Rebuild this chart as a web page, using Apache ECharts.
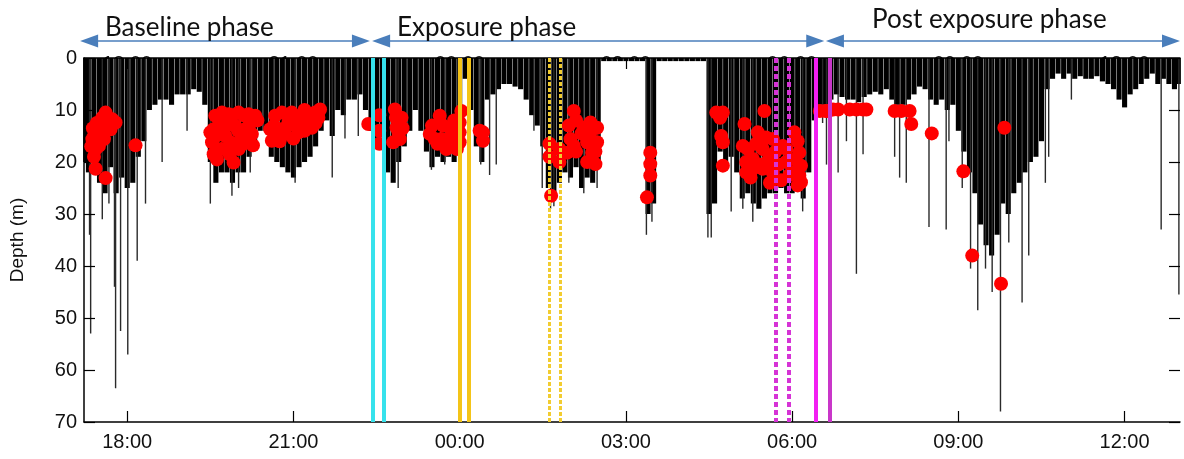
<!DOCTYPE html>
<html>
<head>
<meta charset="utf-8">
<script src="https://cdn.jsdelivr.net/npm/echarts@6/dist/echarts.min.js"></script>
<style>
  html, body { margin: 0; padding: 0; background: #fff; }
  #chart { width: 1184px; height: 459px; }
</style>
</head>
<body>
<div id="chart"></div>
<script>
// dive profile: [hour, depth m], hours past midnight of day 1 (24 = 00:00)
var profile = [
  [17.25,20],[17.3,22],[17.4,19],[17.5,24],[17.6,26],[17.7,21],[17.8,26],[17.9,23],[18.0,25],[18.1,24],
  [18.2,19],[18.3,16],[18.4,10],[18.5,9],[18.6,8],[18.7,8],[18.8,9],[18.9,7],[19.0,7],[19.1,7],
  [19.2,6],[19.3,6.5],[19.4,9],[19.5,20],[19.6,24],[19.7,22],[19.8,22],[19.9,24],[20.0,22],[20.1,22],
  [20.2,19],[20.3,17],[20.4,14],[20.5,14],[20.6,19],[20.7,20],[20.8,21],[20.9,22],[21.0,23],[21.1,21],
  [21.2,20],[21.3,19],[21.4,17],[21.5,14],[21.6,12],[21.7,15],[21.8,10],[21.9,11],[22.0,8],[22.1,8],
  [22.2,7],[22.3,10],[22.4,14],[22.5,17],[22.6,15],[22.7,22],[22.8,24],[22.9,20],[23.0,17],[23.1,14],
  [23.2,10],[23.3,14],[23.4,18],[23.5,21],[23.6,19],[23.7,20],[23.8,19],[23.9,20],[24.0,18],[24.1,4],
  [24.2,10],[24.3,17],[24.4,20],[24.5,8],[24.6,7],[24.7,6],[24.8,5],[24.9,5],[25.0,5.5],[25.1,6],
  [25.2,8],[25.3,11],[25.4,13],[25.5,17],[25.6,25],[25.7,27],[25.8,24],[25.9,22],[26.0,23],[26.1,21],
  [26.2,25],[26.3,23],[26.4,24],[26.5,21],[26.6,0.6],[26.7,0.6],[26.8,0.6],[26.9,0.6],[27.0,0.6],[27.1,0.6],
  [27.2,0.6],[27.3,0.6],[27.4,30],[27.5,28],[27.6,0.6],[27.7,0.6],[27.8,0.6],[27.9,0.6],[28.0,0.6],[28.1,0.6],
  [28.2,0.6],[28.3,0.6],[28.4,0.6],[28.5,30],[28.6,28],[28.7,18],[28.8,20],[28.9,19],[29.0,22],[29.1,27],
  [29.2,26],[29.3,28],[29.4,29],[29.5,27],[29.6,26],[29.7,26],[29.8,25],[29.9,26],[30.0,26],[30.1,25],
  [30.2,27],[30.3,22],[30.4,12],[30.5,9],[30.6,9],[30.7,8],[30.8,7],[30.9,7.5],[31.0,8],[31.1,8],
  [31.2,8.5],[31.3,7.5],[31.4,7],[31.5,6.5],[31.6,7],[31.7,6],[31.8,8],[31.9,9],[32.0,9],[32.1,8],
  [32.2,7],[32.3,5.5],[32.4,6],[32.5,8],[32.6,9],[32.7,8],[32.8,10],[32.9,9],[33.0,14],[33.1,18],
  [33.2,22],[33.3,26],[33.4,32],[33.5,36],[33.6,38],[33.7,34],[33.8,28],[33.9,30],[34.0,26],[34.1,24],
  [34.2,22],[34.3,20],[34.4,19],[34.5,16],[34.6,6],[34.7,4],[34.8,3],[34.9,4],[35.0,3],[35.1,4],
  [35.2,3.5],[35.3,4],[35.4,4],[35.5,3.5],[35.6,4.5],[35.7,5],[35.8,6],[35.9,8],[36.0,9.5],[36.1,7],
  [36.2,6],[36.3,5],[36.4,4],[36.5,3],[36.6,5],[36.7,4],[36.8,5],[36.9,6],[36.97,5]
];

// single deep dives (thin lines)
var spikes = [
  [17.32,34],[17.34,53],[17.55,31],[17.67,28],[17.77,44],[17.79,63.5],[17.88,52.5],[18.01,57],[18.18,39],[18.33,28],
  [18.63,20],[19.08,14],[19.5,28],[19.89,26.5],[20.01,25],[20.22,22],[21.03,24],[21.7,23],[21.93,15.5],[22.17,15],
  [22.89,25],[23.49,21.5],[23.73,20.5],[24.38,20.5],[24.54,22.5],[24.66,20.5],[25.34,14],[25.49,25],[25.64,29],[25.7,28.5],
  [25.97,24],[26.24,26],[26.48,25],[27.37,34],[27.47,31.5],[28.48,34.5],[28.54,34.5],[28.9,29.5],[29.11,29],[29.29,31.5],
  [30.19,29.5],[30.55,12.5],[30.62,20.5],[30.83,22],[30.98,16],[31.16,41.5],[31.28,18.5],[31.85,19],[31.94,23],[32.06,24],
  [32.47,32.5],[32.78,33],[32.83,16],[33.07,25],[33.22,40.5],[33.35,48.5],[33.49,40.5],[33.61,45],[33.76,68],[33.91,35.5],
  [34.15,47],[34.27,38],[34.57,24],[34.63,19],[35.04,8],[36.66,33],[36.98,45.5]
];

// detected events (red dots)
var events = [
  [17.43,17.5],[17.37,15.6],[17.46,14.3],[17.52,13],[17.61,10.5],[17.73,11.8],[17.7,13.7],[17.58,15.6],[17.43,21.3],[17.61,23.1],
  [18.15,16.8],[17.79,12.4],[17.49,16.9],[17.4,15],[17.35,17],[17.45,12.5],[17.55,11.5],[17.65,12],[17.5,15],[17.4,19],[17.38,13.5],
  [19.56,18.5],[19.53,16.2],[19.5,14.3],[19.59,11.1],[19.71,10.5],[19.83,10.8],[19.65,13.1],[19.77,15],[19.92,20.1],[20.01,17.5],
  [20.07,15.6],[19.95,13.1],[20.01,10.5],[20.19,10.8],[20.31,11.1],[20.25,14.6],[20.13,13.7],[19.86,16.2],[19.56,13.7],
  [19.6,15],[19.7,12],[19.8,13],[19.9,11],[20.1,11],[20.2,13],[20.35,12],[20.0,14],[19.7,17.5],[19.85,18.5],
  [20.1,16.5],[19.62,19.5],[20.27,16.8],
  [20.61,15.9],[20.58,13.7],[20.67,11.1],[20.79,10.5],[20.91,12.4],[20.97,10.5],[21.09,14.3],[21.15,11.1],[21.27,12.4],[21.39,10.5],
  [21.48,9.9],[20.85,14.6],[21.03,13],[21.33,13.4],[20.79,13.7],[20.7,14.5],[20.75,16],[20.9,11],[21.0,15.5],[21.1,12.5],
  [21.2,10],[21.2,14],[21.3,11],[21.4,12.5],[21.45,11.5],[20.65,13],[21.05,11.5],
  [22.35,12.7],[22.55,11],[22.55,14],[22.55,16.5],
  [22.83,9.9],[22.95,11.5],[22.86,13.4],[22.92,15.6],[22.8,16.2],[22.9,14.5],[22.85,11.5],[22.97,13.5],
  [23.46,14.6],[23.64,11.1],[23.67,15.6],[23.76,17.5],[23.85,13.7],[23.94,15.6],[24.0,12.4],[23.55,15.6],
  [23.5,13],[23.6,16.5],[23.7,13],[23.8,15.5],[23.9,12],[23.95,17.5],
  [24.03,10.2],[24.0,14.3],[24.0,16.2],[24.42,14.3],[24.42,15.9],[24.36,14],
  [25.62,16.5],[25.62,19],[25.8,17.5],[25.8,20],[25.65,26.5],
  [26.06,10.2],[25.97,13],[26.0,15.6],[25.94,18.2],[26.06,16.9],
  [26.36,12.4],[26.48,13.4],[26.3,16.2],[26.48,16.2],[26.39,18.2],[26.45,20.4],[26.24,13.4],
  [26.1,12],[26.2,14.5],[26.1,18],[26.35,14.5],[26.45,18],[26.3,20],
  [27.44,18.2],[27.44,20.4],[27.44,22.6],[27.38,26.8],
  [28.63,10.5],[28.75,10.5],[28.7,11.5],[28.72,15],[28.75,16.2],[28.75,20.7],
  [29.5,10.2],[29.14,12.7],[29.38,14.3],[29.53,15.3],[29.11,16.9],[29.17,20],[29.17,22],[29.29,19.4],[29.47,17.5],[29.59,18.8],
  [29.47,21.3],[29.65,22],[29.83,16.9],[29.89,20],[30.0,22],[30.04,14.3],[30.13,18.2],[30.16,20.7],[30.16,23.9],[30.13,22.6],
  [29.29,21.3],[29.65,15.6],[29.2,17.5],[29.35,16.5],[29.4,20.5],[29.55,20],[29.7,18],[29.75,20.5],[29.9,17.5],[29.95,22.5],
  [30.05,19.5],[30.1,16],[29.25,23],[29.6,24],[29.8,23.5],[30.1,24.5],
  [30.5,10.2],[30.6,10.2],[30.65,10.2],
  [30.74,9.9],[30.83,9.9],[31.04,9.9],[31.16,9.9],[31.28,9.9],[31.34,9.9],
  [31.85,10.2],[31.97,10.2],[32.12,10.2],[32.15,12.7],[32.52,14.5],[33.09,21.8],[33.25,38],[33.83,13.4],[33.77,43.4]
];

// exposure markers (hours)
var cyanLines = [22.43, 22.63];
var yellowLines = [24.0, 24.16];
var yellowDashed = [25.61, 25.81];
var magentaDashed = [29.70, 29.94];
var magentaLines = [30.42, 30.67];

// phases
var phaseNames = ['Baseline phase', 'Exposure phase', 'Post exposure phase'];
var phaseStart = [17.15, 22.42, 30.61];
var phaseEnd = [22.38, 30.58, 37.0];

var hourTicks = [18, 21, 24, 27, 30, 33, 36];

var X_MIN = 17.22, X_MAX = 37.0;
var GRID = { left: 77, top: 58, right: 4, bottom: 37 };

function hourLabel(v) {
  var h = Math.round(v) % 24;
  return (h < 10 ? '0' : '') + h + ':00';
}

var myChart = echarts.init(document.getElementById('chart'));

function vline(x, color, width, type) {
  return { xAxis: x, lineStyle: { color: color, width: width, type: type } };
}

var markData = []
  .concat(cyanLines.map(function (x) { return vline(x, '#36e2ec', 4, 'solid'); }))
  .concat(yellowLines.map(function (x) { return vline(x, '#f4c418', 4, 'solid'); }))
  .concat(yellowDashed.map(function (x) { return vline(x, '#f2cc30', 3, [4, 2]); }))
  .concat(magentaDashed.map(function (x) { return vline(x, '#d633d6', 4, [5, 3]); }))
  .concat([vline(magentaLines[0], '#f21ff2', 4, 'solid'), vline(magentaLines[1], '#c936c9', 4, 'solid')]);

var labelFont = { fontFamily: 'Liberation Sans', fontSize: 20, color: '#111' };
var noTick = { show: false, length: 0, lineStyle: { color: 'rgba(0,0,0,0)', width: 0 } };

var option = {
  animation: false,
  grid: { left: GRID.left, top: GRID.top, right: GRID.right, bottom: GRID.bottom },
  xAxis: [
    { // bottom
      type: 'value', min: X_MIN, max: X_MAX, position: 'bottom', z: 3,
      axisLine: { onZero: false, lineStyle: { color: '#000', width: 1.5 } },
      axisTick: { inside: true, length: 11, customValues: hourTicks, lineStyle: { color: '#000', width: 1.2 } },
      axisLabel: Object.assign({ customValues: hourTicks, formatter: hourLabel, margin: 10 }, labelFont),
      splitLine: { show: false }
    },
    { // top line and ticks
      type: 'value', min: X_MIN, max: X_MAX, position: 'top', z: 3,
      axisLine: { onZero: false, lineStyle: { color: '#000', width: 1.5 } },
      axisTick: { inside: true, length: 11, customValues: hourTicks, lineStyle: { color: '#000', width: 1.2 } },
      axisLabel: { show: false },
      splitLine: { show: false }
    },
    { // top labels, mostly hidden under the plot
      type: 'value', min: X_MIN, max: X_MAX, position: 'top', z: 0,
      axisLine: { show: false, onZero: false }, axisTick: noTick,
      axisLabel: Object.assign({ customValues: hourTicks, formatter: hourLabel, margin: -16 }, labelFont),
      splitLine: { show: false }
    },
    { // for single dives
      type: 'value', min: X_MIN, max: X_MAX, show: false
    }
  ],
  yAxis: [
    {
      type: 'value', inverse: true, min: 0, max: 70, interval: 10, z: 3,
      name: 'Depth (m)', nameLocation: 'middle', nameGap: 57, nameRotate: 90,
      nameTextStyle: { fontFamily: 'Liberation Sans', fontSize: 19, color: '#111' },
      axisLine: { show: true, onZero: false, lineStyle: { color: '#000', width: 1.5 } },
      axisTick: { show: true, inside: true, length: 11, lineStyle: { color: '#000', width: 1.2 } },
      axisLabel: Object.assign({ margin: 7 }, labelFont),
      splitLine: { show: false }
    },
    {
      type: 'value', inverse: true, min: 0, max: 70, interval: 10, position: 'right', z: 3,
      axisLine: { show: false, onZero: false },
      axisTick: { show: true, inside: true, length: 11, lineStyle: { color: '#000', width: 1.2 } },
      axisLabel: { show: false },
      splitLine: { show: false }
    }
  ],
  series: [
    {
      name: 'profile', type: 'bar', xAxisIndex: 0, yAxisIndex: 0, z: 2,
      barWidth: 5.1, data: profile, silent: true,
      itemStyle: { color: '#000' }
    },
    {
      name: 'single dives', type: 'bar', xAxisIndex: 3, yAxisIndex: 0, z: 2,
      barWidth: 1.4, data: spikes, silent: true,
      itemStyle: { color: '#2a2a2a' }
    },
    {
      name: 'events', type: 'scatter', xAxisIndex: 0, yAxisIndex: 0, z: 3,
      symbolSize: 14, data: events, silent: true,
      itemStyle: { color: '#ff0000', opacity: 1 }
    },
    {
      name: 'exposures', type: 'line', xAxisIndex: 0, yAxisIndex: 0, z: 4,
      data: [], silent: true,
      markLine: { symbol: ['none', 'none'], silent: true, label: { show: false }, data: markData }
    }
  ]
};

myChart.setOption(option);

// white plot background over the top labels, phase arrows and titles
function drawOverlay() {
  var w = myChart.getWidth(), h = myChart.getHeight();
  var els = [{
    type: 'rect', z: 1, silent: true,
    shape: { x: GRID.left + 1, y: GRID.top + 1, width: w - GRID.left - GRID.right - 1, height: h - GRID.top - GRID.bottom - 2 },
    style: { fill: '#fff' }
  }];
  var arrowY = 41, head = 18, half = 6.5, col = '#4a7ebb';
  for (var i = 0; i < phaseNames.length; i++) {
    var x1 = myChart.convertToPixel({ xAxisIndex: 0 }, phaseStart[i]);
    var x2 = myChart.convertToPixel({ xAxisIndex: 0 }, phaseEnd[i]);
    els.push({
      type: 'line', z: 10, silent: true,
      shape: { x1: x1 + head - 2, y1: arrowY, x2: x2 - head + 2, y2: arrowY },
      style: { stroke: col, lineWidth: 1.6 }
    });
    els.push({
      type: 'polygon', z: 10, silent: true,
      shape: { points: [[x1, arrowY], [x1 + head, arrowY - half], [x1 + head, arrowY + half]] },
      style: { fill: col }
    });
    els.push({
      type: 'polygon', z: 10, silent: true,
      shape: { points: [[x2, arrowY], [x2 - head, arrowY - half], [x2 - head, arrowY + half]] },
      style: { fill: col }
    });
  }
  var titlePos = [[105, 28], [397, 28], [872, 20]];
  for (var j = 0; j < phaseNames.length; j++) {
    els.push({
      type: 'text', z: 10, silent: true,
      x: titlePos[j][0], y: titlePos[j][1],
      style: { text: phaseNames[j], fill: '#111', font: '26px Lato', verticalAlign: 'middle', align: 'left' }
    });
  }
  myChart.setOption({ graphic: { elements: els } });
}
drawOverlay();

window.addEventListener('resize', function () {
  myChart.resize();
  drawOverlay();
});
</script>
</body>
</html>
